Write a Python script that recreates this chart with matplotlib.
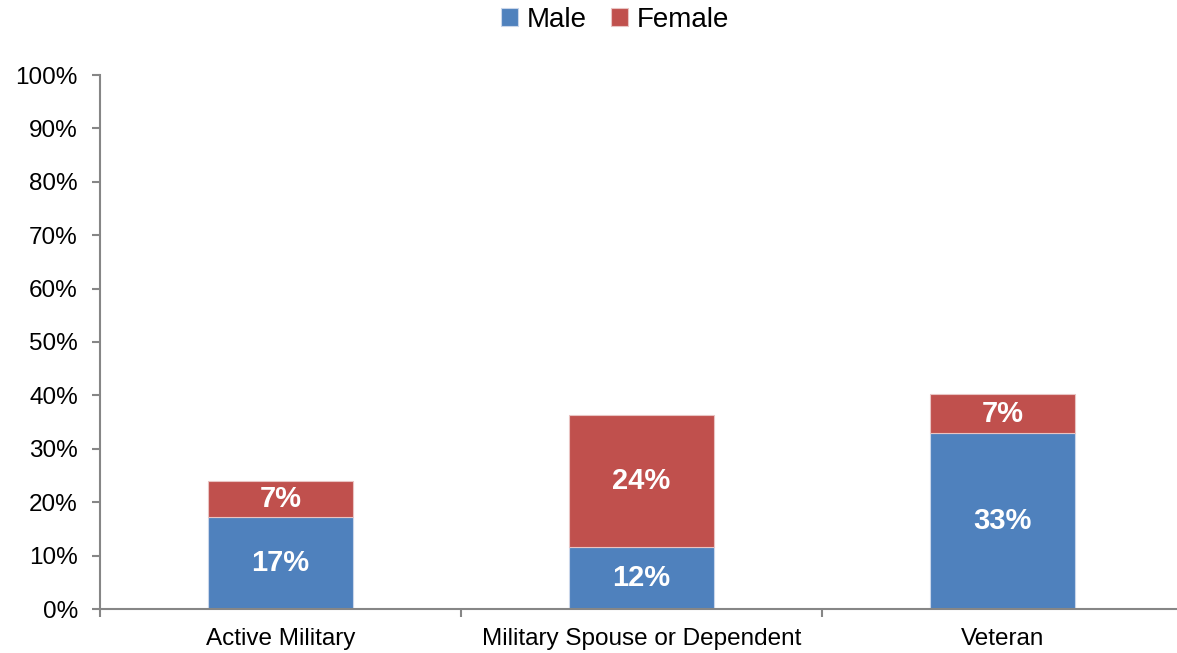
import numpy as np
import matplotlib.pyplot as plt
from matplotlib.ticker import FuncFormatter

plt.rcParams['font.family'] = ['Liberation Sans', 'DejaVu Sans']

# Datos
categories = ["Active Military", "Military Spouse or Dependent", "Veteran"]
male = [17.2, 11.7, 32.9]
female = [6.8, 24.6, 7.4]
male_labels = ["17%", "12%", "33%"]
female_labels = ["7%", "24%", "7%"]

blue = "#4F81BD"
red = "#C0504D"
axis_gray = "#868686"

fig = plt.figure(figsize=(11.77, 6.53), dpi=100)
ax = fig.add_axes([100 / 1177, 1 - 609 / 653, 1083 / 1177, 534 / 653])

x = np.arange(len(categories))
b1 = ax.bar(x, male, width=0.4, color=blue, edgecolor="#c9d6ea", linewidth=0.8, label="Male")
b2 = ax.bar(x, female, width=0.4, bottom=male, color=red, edgecolor="#e9c4c3", linewidth=0.8, label="Female")

for i in range(len(categories)):
    ax.text(x[i], male[i] / 2, male_labels[i], ha="center", va="center",
            color="white", fontsize=21, fontweight="bold")
    ax.text(x[i], male[i] + female[i] / 2, female_labels[i], ha="center", va="center",
            color="white", fontsize=21, fontweight="bold")

ax.set_xlim(-0.5, 2.5)
ax.set_ylim(0, 100)
ax.set_yticks(np.arange(0, 101, 10))
ax.yaxis.set_major_formatter(FuncFormatter(lambda v, p: f"{int(v)}%"))
ax.set_xticks(x)
ax.set_xticklabels(categories)
ax.set_xticks([-0.5, 0.5, 1.5, 2.5], minor=True)
ax.tick_params(axis="x", which="major", length=0, pad=14, labelsize=17.5)
ax.tick_params(axis="x", which="minor", length=6, color=axis_gray, width=1.5)
ax.tick_params(axis="y", length=6, color=axis_gray, width=1.5, labelsize=17.5, pad=10)

for s in ["top", "right"]:
    ax.spines[s].set_visible(False)
for s in ["left", "bottom"]:
    ax.spines[s].set_color(axis_gray)
    ax.spines[s].set_linewidth(1.5)

fig.legend(handles=[b1, b2], loc="center", bbox_to_anchor=(615 / 1177, 1 - 20 / 653),
           ncol=2, frameon=False, fontsize=20, handlelength=0.6, handleheight=0.6,
           handletextpad=0.3, columnspacing=0.9)

fig.savefig("out.png", dpi=100)
